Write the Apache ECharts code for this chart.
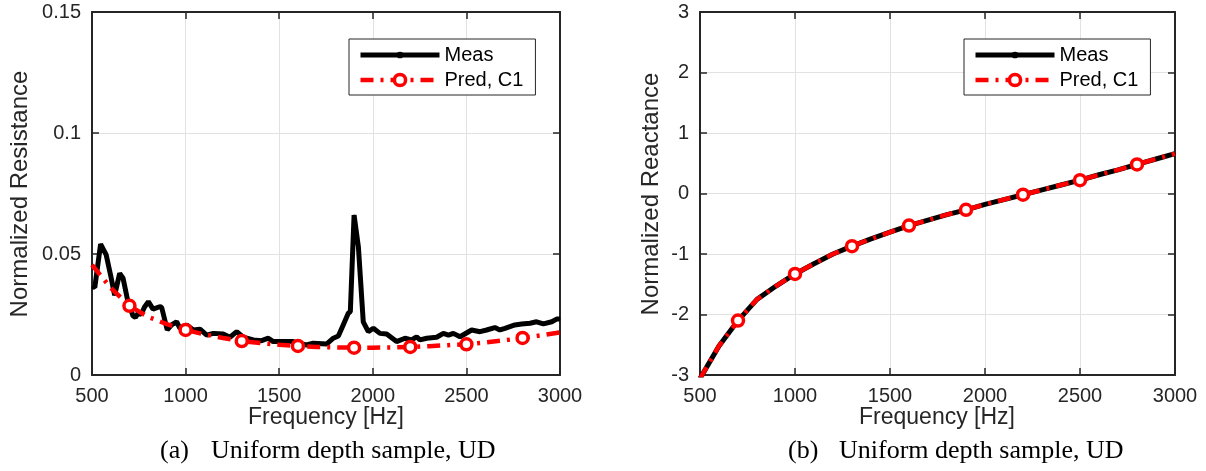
<!DOCTYPE html>
<html><head><meta charset="utf-8">
<script src="https://cdn.jsdelivr.net/npm/echarts@6/dist/echarts.min.js"></script>
<style>html,body{margin:0;padding:0;background:#fff}#c{width:1206px;height:471px}</style>
</head><body><div id="c"></div><script>
// ---------- data ----------
const xTicks = [500, 1000, 1500, 2000, 2500, 3000];
const seriesNames = ['Meas', 'Pred, C1'];

const measResFreq = [500, 515, 522, 546, 576, 600, 621, 648, 666, 692, 719, 732, 746, 762, 780, 801, 826, 861, 872, 902, 925, 952, 970, 1006, 1041, 1077, 1113, 1148, 1201, 1237, 1273, 1308, 1362, 1406, 1442, 1468, 1575, 1610, 1646, 1682, 1753, 1789, 1816, 1842, 1869, 1880, 1900, 1923, 1949, 1976, 2003, 2038, 2074, 2127, 2172, 2207, 2234, 2252, 2288, 2341, 2377, 2404, 2430, 2466, 2528, 2573, 2608, 2652, 2679, 2706, 2759, 2795, 2840, 2875, 2911, 2956, 2982, 3000];
const measRes = [0.0365, 0.0362, 0.0370, 0.0541, 0.0496, 0.0410, 0.0330, 0.0420, 0.0400, 0.0303, 0.0244, 0.0238, 0.0255, 0.0250, 0.0280, 0.0303, 0.0272, 0.0282, 0.0280, 0.0186, 0.0207, 0.0220, 0.0193, 0.0207, 0.0186, 0.0189, 0.0165, 0.0172, 0.0169, 0.0156, 0.0179, 0.0156, 0.0145, 0.0142, 0.0152, 0.0138, 0.0138, 0.0130, 0.0124, 0.0131, 0.0128, 0.0152, 0.0161, 0.0207, 0.0255, 0.0262, 0.0661, 0.0530, 0.0220, 0.0179, 0.0193, 0.0172, 0.0169, 0.0138, 0.0152, 0.0145, 0.0158, 0.0145, 0.0152, 0.0156, 0.0172, 0.0165, 0.0172, 0.0158, 0.0186, 0.0179, 0.0186, 0.0196, 0.0186, 0.0193, 0.0207, 0.0211, 0.0214, 0.0220, 0.0211, 0.0220, 0.0231, 0.0231];

const predFreq = [500, 600, 700, 800, 900, 1000, 1100, 1200, 1300, 1400, 1500, 1600, 1700, 1800, 1900, 2000, 2100, 2200, 2300, 2400, 2500, 2600, 2700, 2800, 2900, 3000];
const predRes = [0.0455, 0.0360, 0.0286, 0.0240, 0.0210, 0.0186, 0.0168, 0.0153, 0.0140, 0.0132, 0.0125, 0.0120, 0.0116, 0.0114, 0.0113, 0.0113, 0.0114, 0.0116, 0.0119, 0.0123, 0.0127, 0.0134, 0.0143, 0.0153, 0.0164, 0.0176];
const predMarkerFreq = [700, 1000, 1300, 1600, 1900, 2200, 2500, 2800];

const reacFreq = [500, 600, 700, 800, 900, 1000, 1100, 1200, 1300, 1400, 1500, 1600, 1700, 1800, 1900, 2000, 2100, 2200, 2300, 2400, 2500, 2600, 2700, 2800, 2900, 3000];
const measReac = [-3.06, -2.52, -2.10, -1.75, -1.53, -1.33, -1.16, -1.00, -0.87, -0.75, -0.64, -0.53, -0.44, -0.35, -0.27, -0.18, -0.10, -0.02, 0.06, 0.14, 0.22, 0.31, 0.39, 0.48, 0.57, 0.66];
const predReac = [-3.06, -2.52, -2.10, -1.75, -1.53, -1.33, -1.16, -1.00, -0.87, -0.75, -0.64, -0.53, -0.44, -0.35, -0.27, -0.18, -0.10, -0.02, 0.06, 0.14, 0.22, 0.31, 0.39, 0.48, 0.57, 0.66];

const resTicks = [0, 0.05, 0.1, 0.15];
const reacTicks = [-3, -2, -1, 0, 1, 2, 3];

// ---------- chart ----------
const SANS = '"Liberation Sans", Arial, Helvetica, sans-serif';
const SERIF = '"Liberation Serif", "Times New Roman", serif';
const AX = '#262626';
// small dot centred in a larger (invisible) box so the legend shows a small dot on the line
const SMALL_DOT = 'path://M0,0 M20,20 M4,10 A6,6 0 1,1 16,10 A6,6 0 1,1 4,10 Z';

function pairs(fs, vs) { return fs.map((f, i) => [f, vs[i]]); }
function predItems(fs, vs) {
  return fs.map((f, i) => ({ value: [f, vs[i]], symbol: predMarkerFreq.includes(f) ? 'circle' : 'none' }));
}

function xAx(grid, primary) {
  return {
    gridIndex: grid, type: 'value', min: xTicks[0], max: xTicks[xTicks.length - 1],
    interval: xTicks[1] - xTicks[0], position: primary ? 'bottom' : 'top',
    axisLine: { show: true, onZero: false, lineStyle: { color: AX, width: 2 } },
    axisTick: { show: true, inside: true, length: 7, lineStyle: { color: AX, width: 1.5 } },
    axisLabel: { show: primary, fontSize: 20, color: AX, fontFamily: SANS, margin: 11, formatter: v => String(v) },
    splitLine: { show: primary, lineStyle: { color: '#e2e2e2', width: 1 } }
  };
}
function yAx(grid, primary, ticks) {
  return {
    gridIndex: grid, type: 'value', min: ticks[0], max: ticks[ticks.length - 1],
    interval: ticks[1] - ticks[0], position: primary ? 'left' : 'right',
    axisLine: { show: true, onZero: false, lineStyle: { color: AX, width: 2 } },
    axisTick: { show: true, inside: true, length: 7, lineStyle: { color: AX, width: 1.5 } },
    axisLabel: { show: primary, fontSize: 20, color: AX, fontFamily: SANS, margin: 11 },
    splitLine: { show: primary, lineStyle: { color: '#e2e2e2', width: 1 } }
  };
}

function measSeries(xi, yi, data) {
  return {
    name: seriesNames[0], type: 'line', xAxisIndex: xi, yAxisIndex: yi, data: data,
    color: '#000', symbol: SMALL_DOT, symbolSize: 2, showSymbol: true, showAllSymbol: true,
    lineStyle: { color: '#000', width: 5 }, itemStyle: { color: '#000' }, z: 2
  };
}
function predSeries(xi, yi, data) {
  return {
    name: seriesNames[1], type: 'line', xAxisIndex: xi, yAxisIndex: yi, data: data,
    color: '#ff0000', symbol: 'circle', symbolSize: 11, showAllSymbol: true,
    lineStyle: { color: '#ff0000', width: 4.5, type: [13, 7, 3, 7] },
    itemStyle: { color: '#ffffff', borderColor: '#ff0000', borderWidth: 3.5 }, z: 3
  };
}
function legendAt(left) {
  return {
    data: [
      { name: seriesNames[0], lineStyle: { width: 5 } },
      { name: seriesNames[1], lineStyle: { width: 4.5 }, itemStyle: { color: '#ffffff', borderColor: '#ff0000', borderWidth: 3.5 } }
    ],
    left: left, top: 39, orient: 'vertical',
    backgroundColor: '#fff', borderColor: AX, borderWidth: 1,
    padding: [6, 12, 5, 9], itemGap: 5, itemWidth: 79, itemHeight: 14, itemTextGap: 8,
    textStyle: { fontSize: 20, color: '#000', fontFamily: SANS }
  };
}
function txt(x, y, text, font, opts) {
  return Object.assign({
    type: 'text', x: x, y: y, silent: true,
    style: { text: text, font: font, fill: opts && opts.fill || AX, align: opts && opts.align || 'center', verticalAlign: 'middle' }
  }, opts && opts.rotation ? { rotation: opts.rotation } : {});
}

const chart = echarts.init(document.getElementById('c'), null, { renderer: 'canvas' });
chart.setOption({
  animation: false,
  backgroundColor: '#fff',
  grid: [
    { left: 92, top: 12, width: 468, height: 363 },
    { left: 700, top: 12, width: 475, height: 363 }
  ],
  xAxis: [xAx(0, true), xAx(0, false), xAx(1, true), xAx(1, false)],
  yAxis: [yAx(0, true, resTicks), yAx(0, false, resTicks), yAx(1, true, reacTicks), yAx(1, false, reacTicks)],
  legend: [legendAt(349), legendAt(964)],
  series: [
    measSeries(0, 0, pairs(measResFreq, measRes)),
    predSeries(0, 0, predItems(predFreq, predRes)),
    measSeries(2, 2, pairs(reacFreq, measReac)),
    predSeries(2, 2, predItems(reacFreq, predReac))
  ],
  graphic: [
    txt(20, 194, 'Normalized Resistance', '24px ' + SANS, { rotation: Math.PI / 2 }),
    txt(651, 194, 'Normalized Reactance', '24px ' + SANS, { rotation: Math.PI / 2 }),
    txt(326, 418, 'Frequency [Hz]', '23px ' + SANS),
    txt(937, 418, 'Frequency [Hz]', '23px ' + SANS),
    txt(160, 451, '(a)', '26px ' + SERIF, { align: 'left', fill: '#000' }),
    txt(211, 451, 'Uniform depth sample, UD', '26px ' + SERIF, { align: 'left', fill: '#000' }),
    txt(788, 451, '(b)', '26px ' + SERIF, { align: 'left', fill: '#000' }),
    txt(839, 451, 'Uniform depth sample, UD', '26px ' + SERIF, { align: 'left', fill: '#000' })
  ]
});
</script></body></html>
